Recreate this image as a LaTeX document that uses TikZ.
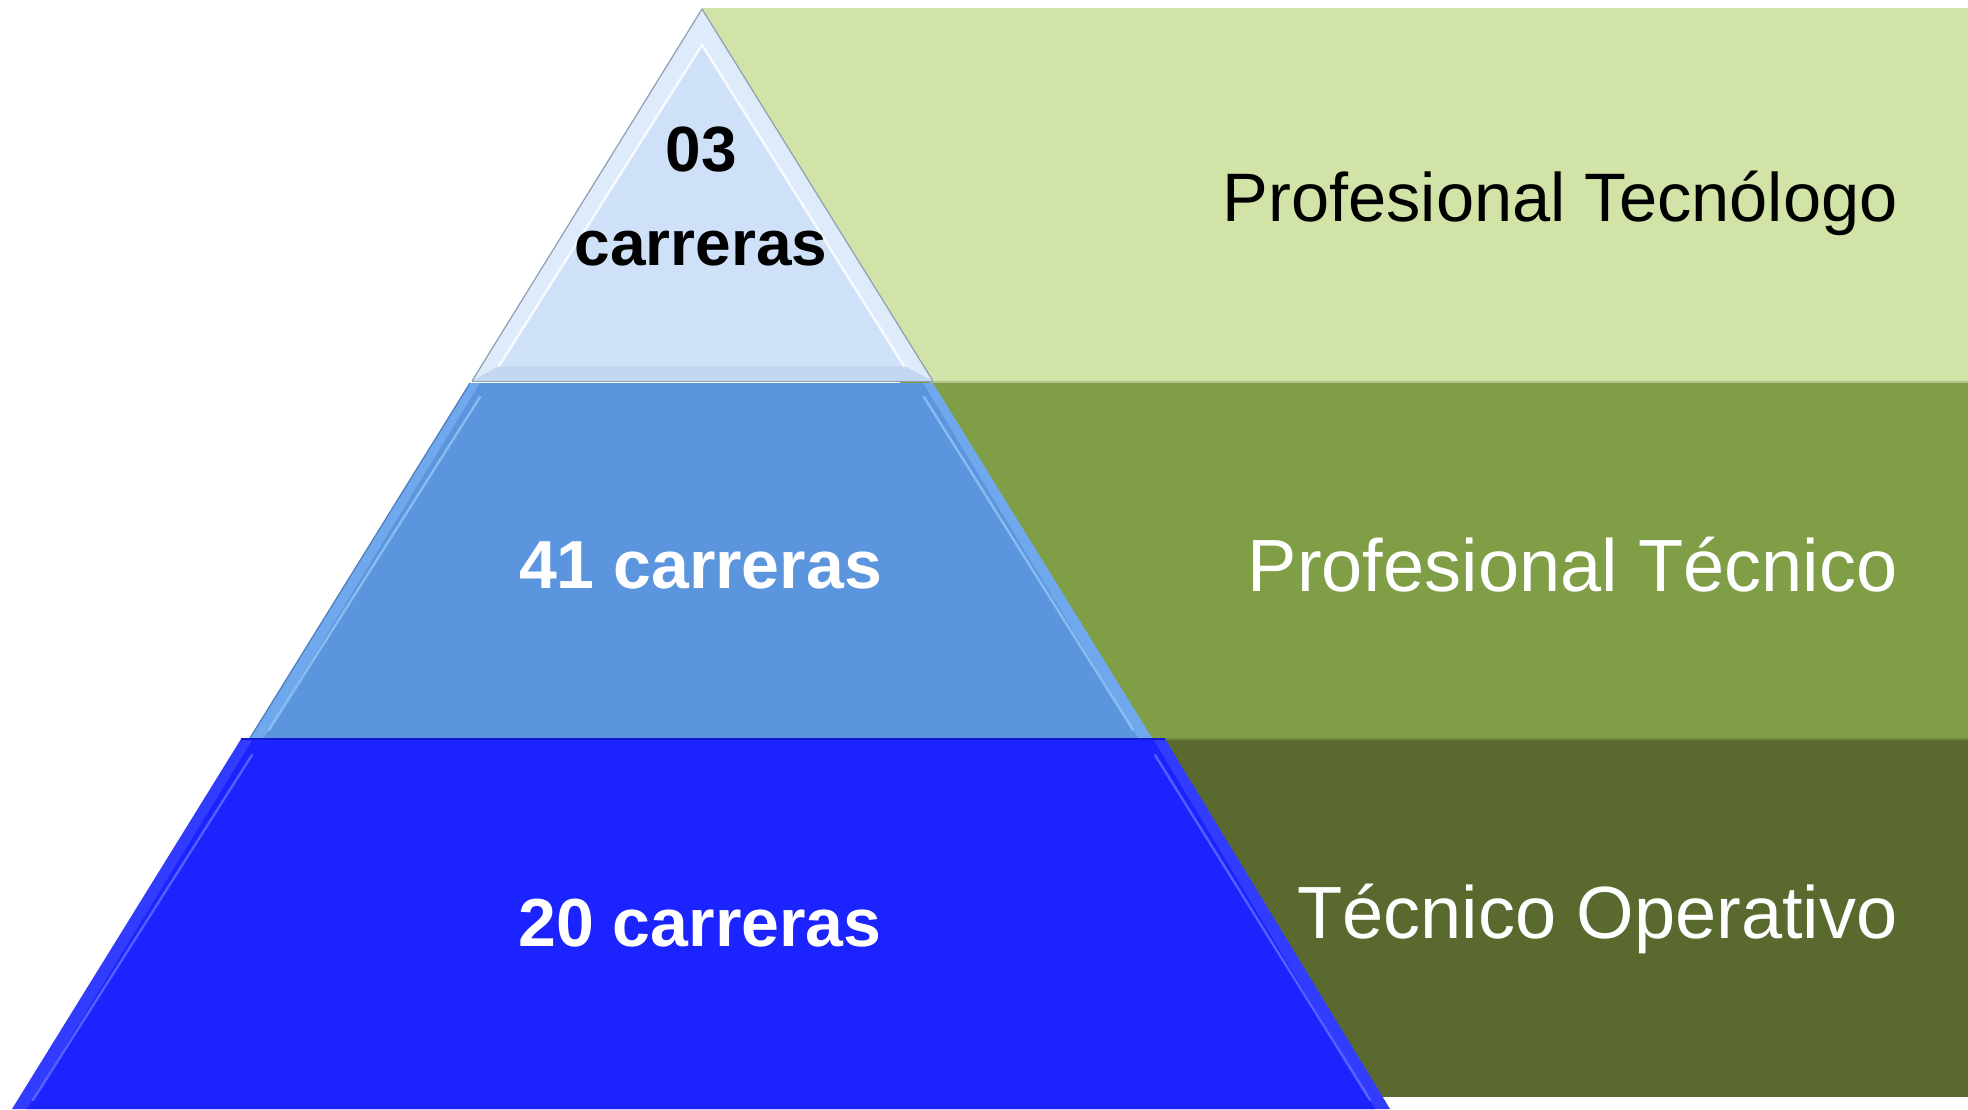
\documentclass[tikz,border=0pt]{standalone}
\usepackage{fontspec}
\setmainfont{Liberation Sans}
\definecolor{panelTop}{HTML}{D1E3A7}
\definecolor{panelMid}{HTML}{809E45}
\definecolor{panelBot}{HTML}{5A6A2F}
\definecolor{faceTop}{HTML}{CFE1F8}
\definecolor{bevTop}{HTML}{DDEBFB}
\definecolor{baseTop}{HTML}{C4D7F0}
\definecolor{lineTop}{HTML}{8E9FB3}
\definecolor{faceMid}{HTML}{5B95DD}
\definecolor{bevMid}{HTML}{6FA8EC}
\definecolor{hiMid}{HTML}{A6D6FF}
\definecolor{lineMid}{HTML}{4A7DBE}
\definecolor{faceBot}{HTML}{1B23FE}
\definecolor{bevBot}{HTML}{313CFF}
\definecolor{hiBot}{HTML}{7C88FF}
\definecolor{lineBot}{HTML}{1219D0}
\begin{document}
\begin{tikzpicture}[x=0.5pt,y=-0.5pt,
  tierlabel/.style={inner sep=0pt, anchor=base, font=\bfseries\fontsize{34}{40}\selectfont},
  levellabel/.style={inner sep=0pt, anchor=base east, font=\fontsize{37}{44}\selectfont, text=white},
  hiline/.style={line width=1.2pt, line cap=round, opacity=0.6}]
\useasboundingbox (0,0) rectangle (1968,1109);
\fill[white] (0,0) rectangle (1968,1109);
% right panels
\fill[panelTop] (702,8) rectangle (1968,381);
\fill[panelMid] (900,382) rectangle (1968,738);
\fill[panelBot] (1100,739) rectangle (1968,1097);
\draw[line width=1pt, color=panelTop!85!black] (930,381.5) -- (1968,381.5);
\draw[line width=1pt, color=panelMid!85!black] (1150,738.5) -- (1968,738.5);
% top tier
\fill[bevTop] (702,9) -- (933,381) -- (472,381) -- cycle;
\fill[baseTop] (472,381) -- (933,381) -- (904,366) -- (499,366) -- cycle;
\fill[faceTop] (702,45) -- (904,366) -- (499,366) -- cycle;
\draw[hiline, white, opacity=0.85] (702,45) -- (499,366);
\draw[hiline, white, opacity=0.85] (702,45) -- (904,366);
\draw[line width=0.6pt, lineTop] (472,381) -- (702,9) -- (933,381);
\draw[line width=0.8pt, lineTop] (472,381.5) -- (933,381.5);
% middle tier
\fill[bevMid] (470,383) -- (933,383) -- (1152,738) -- (250,738) -- cycle;
\fill[faceMid] (480,383) -- (923,383) -- (1138,738) -- (264,738) -- cycle;
\draw[hiline, hiMid] (480,397) -- (269,730);
\draw[hiline, hiMid] (924,397) -- (1133,730);
\draw[line width=0.6pt, lineMid] (250,738) -- (470,383);
% bottom tier
\fill[bevBot] (241,739) -- (1165,739) -- (1390,1109) -- (12,1109) -- cycle;
\fill[faceBot] (253,739) -- (1153,739) -- (1375,1109) -- (27,1109) -- cycle;
\draw[hiline, hiBot] (252,755) -- (33,1100);
\draw[hiline, hiBot] (1155,755) -- (1370,1100);
\draw[line width=0.8pt, lineBot] (241,739) -- (1165,739);
% labels in pyramid
\node[tierlabel, text=black, font=\bfseries\fontsize{32}{38}\selectfont] (n03) at (701,171) {03};
\node[tierlabel, text=black, font=\bfseries\fontsize{32}{38}\selectfont] (c03) at (701,265) {carreras};
\node[tierlabel, text=white] (c41) at (700.5,588) {41 carreras};
\node[tierlabel, text=white] (c20) at (700,946) {20 carreras};
% level labels
\node[levellabel, text=black, font=\fontsize{34.3}{40}\selectfont] (tecnologo) at (1898,221) {Profesional Tecnólogo};
\node[levellabel] (tecnico) at (1898,591) {Profesional Técnico};
\node[levellabel] (operativo) at (1898,938) {Técnico Operativo};
\end{tikzpicture}
\end{document}
